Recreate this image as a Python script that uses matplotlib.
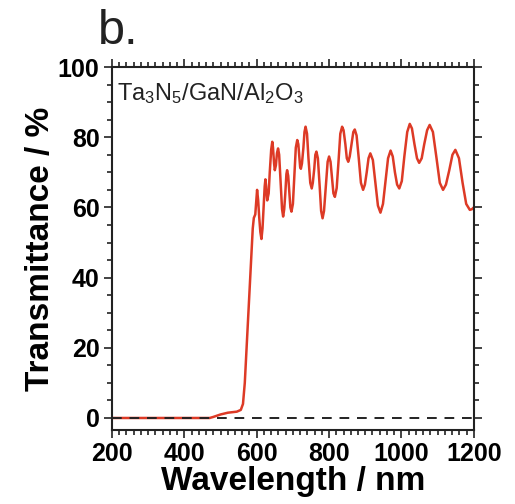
import matplotlib
matplotlib.use("Agg")
import matplotlib.pyplot as plt
from matplotlib.ticker import MultipleLocator

plt.rcParams['font.family'] = ['Liberation Sans', 'DejaVu Sans']
plt.rcParams['mathtext.default'] = 'regular'

# transmittance spectrum (wavelength in nm, T in %)
wavelength = [200, 300, 400, 470, 480, 500, 520, 545, 556, 562, 567, 572, 577,
              582, 586, 589, 592, 596, 601, 604, 607, 610, 613, 616, 619, 622,
              624, 626, 628, 629, 633, 636, 640, 643, 645, 648, 650, 653, 656,
              659, 662, 666, 670, 673, 676, 679, 682, 684, 687, 690, 693, 696,
              700, 704, 708, 712, 715, 718, 720, 722, 725, 729, 732, 735, 739,
              743, 748, 752, 755, 759, 762, 765, 769, 774, 778, 782, 786, 791,
              796, 800, 804, 808, 812, 816, 821, 826, 831, 836, 840, 845, 849,
              853, 857, 862, 867, 871, 876, 882, 888, 894, 899, 904, 909, 914,
              921, 928, 935, 942, 949, 956, 963, 970, 976, 982, 988, 994, 1001,
              1008, 1016, 1023, 1029, 1036, 1043, 1049, 1056, 1063, 1071, 1078,
              1087, 1097, 1106, 1115, 1123, 1132, 1141, 1149, 1159, 1169, 1179,
              1189, 1195, 1200]
transmittance = [0, 0, 0, 0, 0.3, 1.0, 1.5, 1.8, 2.3, 4, 10, 20, 30,
                 40, 48, 54, 57, 58, 65, 62, 57, 53, 51, 54, 60, 66,
                 68, 66, 63, 62, 64, 70, 76.5, 78.7, 77, 72.5, 70.6, 72, 75.5,
                 76.8, 75, 67, 59.5, 57.4, 59.5, 64, 69.5, 70.6, 69, 64.5, 60, 58.8,
                 61, 69, 77, 79.2, 78, 74, 71.5, 71, 72.5, 77, 81.5, 83, 81,
                 74, 67, 65.4, 67, 71, 75, 75.9, 74, 66, 59, 56.9, 59, 66,
                 73, 74.5, 73, 68.5, 64, 63, 65.5, 73, 81, 83, 82, 78, 74,
                 73, 74.5, 78, 81.5, 82.2, 80.5, 74, 67, 65, 66.5, 70, 74, 75.4,
                 73.5, 67, 60.5, 58.5, 61, 67.5, 74, 76.2, 74.5, 70, 66.5, 65.4, 67.5,
                 74.5, 81.5, 83.8, 82.5, 78, 74, 72.7, 74, 78, 82, 83.5,
                 81.5, 74, 67, 65, 66.5, 70.5, 75, 76.4, 74, 67, 61,
                 59.3, 59.5, 60]

fig = plt.figure(figsize=(5.15, 5.04), dpi=100)
ax = fig.add_axes([0.2175, 0.147, 0.7025, 0.72])

ax.plot(wavelength, transmittance, color='#dd3a26', lw=1.8, zorder=2)
ax.axhline(0, color='#222222', lw=1.4, ls=(0, (5, 4)), zorder=3)

ax.set_xlim(200, 1200)
ax.set_ylim(-3.4, 100)
ax.xaxis.set_major_locator(MultipleLocator(200))
ax.xaxis.set_minor_locator(MultipleLocator(20))
ax.yaxis.set_major_locator(MultipleLocator(20))
ax.yaxis.set_minor_locator(MultipleLocator(5))
ax.tick_params(which='both', direction='out', top=True, right=True,
               width=1.2, color='#222222')
ax.tick_params(which='major', length=6, labelsize=18, pad=3)
ax.tick_params(which='minor', length=3.5)
for lab in ax.get_xticklabels() + ax.get_yticklabels():
    lab.set_fontweight('bold')
for sp in ax.spines.values():
    sp.set_linewidth(1.5)
    sp.set_color('#222222')

ax.set_xlabel('Wavelength / nm', fontsize=24, fontweight='bold', labelpad=0)
ax.set_ylabel('Transmittance / %', fontsize=24, fontweight='bold', labelpad=1)

ax.text(0.015, 0.96, r'Ta$_3$N$_5$/GaN/Al$_2$O$_3$', transform=ax.transAxes,
        fontsize=17, va='top', ha='left', color='#222222')
fig.text(0.19, 0.912, 'b.', fontsize=35, color='#222222')

fig.savefig('out.png', dpi=100)
